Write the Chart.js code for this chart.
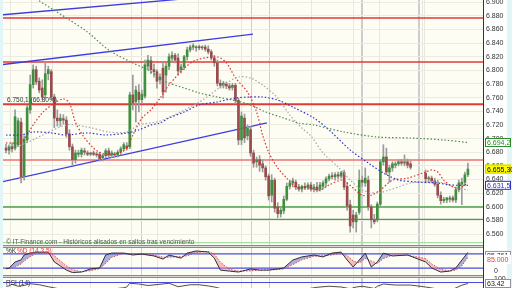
<!DOCTYPE html>
<html><head><meta charset="utf-8">
<script src="https://cdn.jsdelivr.net/npm/chart.js@4.4.1/dist/chart.umd.min.js"></script>
<style>
html,body{margin:0;padding:0;background:#fff;overflow:hidden;width:512px;height:288px}
#wrap{position:absolute;left:0;top:0;width:512px;height:300px}
</style>
</head><body><div id="wrap"><canvas id="c" width="512" height="300"></canvas></div>
<script>
// ---------- DATA (prices in index points, session index on x) ----------
const open = [
6686,6683,6688,6686,6691,6724,6645,6698,6742,6779,
6801,6784,6774,6764,6795,6798,6761,6730,6726,6729,
6727,6707,6688,6669,6677,6677,6682,6679,6677,6679,
6677,6677,6672,6675,6682,6676,6677,6676,6680,6685,
6689,6688,6764,6754,6768,6757,6762,6806,6814,6801,
6798,6786,6803,6793,6806,6818,6822,6818,6801,6805,
6820,6830,6834,6833,6834,6833,6834,6831,6827,6818,
6811,6781,6778,6780,6777,6775,6778,6756,6698,6730,
6704,6713,6679,6666,6669,6663,6657,6645,6617,6639,
6600,6590,6594,6611,6630,6635,6636,6629,6626,6630,
6628,6632,6626,6629,6626,6630,6635,6641,6645,6644,
6647,6645,6650,6630,6603,6588,6578,6592,6639,6635,
6639,6600,6581,6581,6604,6666,6673,6651,6657,6661,
6663,6666,6664,6666,6663,null,null,null,null,6649,
6641,6642,6638,6633,6617,6609,6610,6611,6613,6610,
6625,6633,6636,6647];
const high = [
6692,6691,6694,6742,6730,6730,6704,6749,6793,6808,
6806,6789,6786,6812,6806,6801,6765,6742,6736,6735,
6732,6713,6692,6683,6683,6686,6686,6682,6680,6682,
6680,6680,6677,6685,6686,6682,6680,6683,6688,6694,
6694,6768,6793,6777,6779,6771,6815,6822,6820,6809,
6801,6795,6812,6811,6824,6827,6825,6824,6809,6822,
6834,6837,6839,6836,6837,6836,6837,6836,6830,6822,
6815,6786,6784,6783,6781,6781,6781,6759,6739,6736,
6720,6718,6683,6673,6675,6669,6660,6648,6647,6642,
6606,6598,6616,6635,6639,6642,6639,6633,6632,6635,
6635,6636,6633,6636,6636,6638,6644,6648,6650,6650,
6651,6652,6654,6636,6610,6595,6592,6654,6645,6657,
6645,6603,6589,6607,6669,6691,6686,6661,6666,6666,
6669,6669,6676,6670,6667,null,null,null,null,6654,
6645,6645,6642,6639,6622,6614,6614,6616,6616,6629,
6639,6642,6651,6664];
const low = [
6679,6677,6680,6683,6688,6635,6639,6694,6737,6774,
6779,6767,6757,6759,6786,6757,6716,6718,6718,6721,
6702,6683,6661,6664,6673,6673,6676,6675,6675,6675,
6673,6667,6667,6672,6673,6672,6673,6673,6676,6682,
6683,6685,6742,6724,6739,6751,6759,6801,6795,6790,
6774,6780,6759,6768,6801,6812,6811,6793,6796,6801,
6815,6827,6830,6828,6830,6830,6828,6824,6815,6806,
6777,6774,6774,6773,6771,6771,6752,6691,6691,6694,
6698,6674,6658,6658,6652,6651,6639,6610,6607,6592,
6584,6585,6590,6609,6626,6629,6625,6623,6622,6625,
6625,6623,6622,6622,6623,6626,6630,6638,6641,6639,
6641,6642,6625,6595,6563,6569,6563,6589,6630,6630,
6595,6569,6575,6578,6601,6661,6647,6636,6652,6657,
6660,6661,6660,6657,6655,null,null,null,null,6635,
6636,6635,6630,6613,6604,6606,6606,6607,6607,6606,
6622,6603,6632,6644];
const close = [
6683,6688,6685,6732,6726,6644,6699,6745,6779,6801,
6783,6771,6761,6795,6801,6761,6730,6726,6730,6727,
6707,6688,6669,6679,6679,6683,6680,6677,6679,6677,
6676,6670,6675,6682,6676,6679,6676,6680,6685,6691,
6686,6764,6752,6771,6757,6765,6808,6815,6801,6798,
6784,6790,6768,6806,6820,6822,6815,6799,6805,6820,
6830,6834,6836,6834,6833,6834,6831,6827,6818,6811,
6781,6778,6781,6777,6774,6778,6756,6698,6733,6701,
6715,6679,6664,6669,6661,6657,6644,6616,6639,6598,
6590,6595,6611,6630,6635,6638,6629,6626,6630,6628,
6632,6626,6629,6625,6632,6635,6641,6645,6644,6647,
6645,6650,6629,6601,6572,6578,6588,6639,6636,6642,
6600,6581,6578,6604,6666,6673,6651,6657,6663,6663,
6666,6664,6666,6661,6658,null,null,null,null,6641,
6642,6638,6633,6617,6609,6611,6613,6613,6610,6625,
6635,6636,6647,6655.3];

// price axis tick labels
const priceTicks = [6560,6580,6600,6620,6640,6660,6680,6700,6720,6740,6760,6780,6800,6820,6840,6860,6880,6900];

// moving averages (session index, value)
const redIdx = [0,5,9,12,16,19,21,23,26,29,31,34,38,40,42,45,48,51,54,59,63,70,73,76,80,83,85,87,90,93,96,100,104,107,111,113,115,118,121,124,128,133,139,141,143,145,147,149,151,153];
const redMA = [6693.5,6695,6720,6737.5,6752,6758,6752,6724,6701,6686,6680,6676,6680,6686,6705,6730,6742,6759,6778.5,6803,6815,6819.5,6811,6789,6768,6739,6705,6680,6657,6642,6629,6627.6,6624.7,6632,6639,6635,6627.6,6617,6617,6624.7,6639,6642,6651,6654,6651,6639,6632,6627.6,6629,6635];
const grayIdx = [0,5,20,27,34,40,44,51,64,72,77,81,85,90,94,98,101,105,110,114,118,123,127,130,134,139,145,149,153];
const grayMA = [6687.6,6690.6,6719.9,6716.9,6709.6,6709.6,6719.9,6725.7,6753.6,6778.5,6790.2,6788.7,6778.5,6759.4,6734.5,6715.5,6703.8,6678.9,6658.3,6639.3,6624.7,6620.3,6624.7,6629,6634.9,6636.4,6634.9,6627.6,6624.7];
const blueIdx = [0,5,9,15,20,27,33,40,44,48,51,54,59,64,70,76,81,85,90,95,102,107,114,120,125,130,136,143,147,153];
const blueMA = [6705.2,6705.2,6709.6,6708.2,6705.2,6708.2,6705.2,6708.2,6712.6,6719.9,6722.8,6730.1,6738.9,6749.2,6753.6,6759.4,6760.9,6760.9,6756.5,6746.2,6730.1,6712.6,6683.3,6664.2,6649.6,6639.3,6636.4,6634.9,6632,6631.5];
const greenIdx = [10,20,27,34,42,47,51,53,59,64,70,75,81,86,92,97,102,112,123,134,145,153];
const greenMA = [6904.5,6876.6,6856.1,6829.8,6810.7,6800.5,6788.7,6782.9,6774.1,6766.8,6760.9,6756.5,6749.2,6738.9,6730.1,6722.8,6719.9,6709.6,6702.3,6700.8,6697.9,6694.2];

// trend lines [startIdx, startVal, endIdx, endVal]
const trendLines = [[-2,6881,160,6944],[-2,6808,81.8,6853],[-2,6636,86.4,6723]];
const redLevels = [6876.6, 6812.2, 6750.1, 6668.6];
const greenLevels = [6599.7, 6581.5];
const paleGreenLevel = 6547.5;

// stochastic %K / %D
const stochIdx = [0,1,3,5,6,8,10,14,16,18,20,22,25,28,31,33,35,39,42,45,49,52,54,58,60,63,67,69,71,74,77,81,84,87,90,92,95,98,102,105,108,111,113,115,117,119,121,123,125,128,133,139,141,144,147,149,151,153];
const stochK = [17,20,46,55,75,83,87,87,46,29,12,2,4,17,21,75,83,83,75,79,71,58,75,62,83,92,87,62,12,8,4,17,12,12,17,21,54,67,75,67,83,87,54,25,54,83,25,46,83,71,75,46,21,4,8,21,54,85.761];
const stochD = [20,18,25,38,50,68,82,86,72,50,30,14,5,10,18,40,65,82,80,77,75,66,66,68,72,85,90,78,45,15,8,9,12,13,14,17,35,55,70,72,75,82,72,50,42,60,50,40,60,75,74,60,38,15,8,12,30,65];
const stochLevels = [20, 80];

// RSI(14)
const rsiIdx = [0,1,2,4,6,8,11,14,17,20,24,28,32,36,39,40,41,44,47,51,54,57,61,64,67,69,71,76,78,82,86,89,92,96,100,103,107,111,114,116,118,120,122,123,125,129,134,139,142,145,148,151,153];
const rsiVal = [45,47,58,45,50,62,55,42,30,25,22,25,30,28,35,40,65,60,50,58,65,42,55,55,47,40,30,28,25,22,18,15,20,25,28,38,45,40,28,40,45,38,30,45,60,53,53,40,30,22,25,52,63.42];
const rsiLevels = [70, 30];

// vertical separators (session index)
const weekLines = [5,12,19,37,46,54.3,73.5,82.8,91.7,110.6,119.5,128,148];
const monthLines = [26.5,63.2,99.7,136,137.7];

// ---------- BUILD ----------
const UP = '#3f8f3f', DOWN = '#9b4b4b', WICK = '#9a9a9a';
const wickData = [], bodyData = [], bodyCol = [];
open.forEach((o, i) => {
  if (o == null) return;
  wickData.push({x: i, y: [low[i], high[i]]});
  bodyData.push({x: i, y: [o, close[i]]});
  bodyCol.push(close[i] >= o ? UP : DOWN);
});
const pts = (idx, vals) => idx.map((x, k) => ({x, y: vals[k]}));
const XMIN = -1, XMAX = 158;
const hline = (v, color, w, order) => ({type: 'line', data: [{x: XMIN, y: v}, {x: XMAX, y: v}], borderColor: color, borderWidth: w, pointRadius: 0, yAxisID: 'y', order});
const dotted = (idx, vals, color) => ({type: 'line', data: pts(idx, vals), borderColor: color, borderWidth: 1.2, borderDash: [1.5, 2], pointRadius: 0, yAxisID: 'y', order: 1, tension: 0.3});

const fmtThousands = v => { const s = Math.round(v).toString(); return s.slice(0, s.length - 3) + '.' + s.slice(-3); };

const datasets = [];
redLevels.forEach((v, k) => datasets.push(hline(v, k === 3 ? '#e87070' : '#e03a3a', k === 2 ? 2 : 1.3, 10)));
greenLevels.forEach(v => datasets.push(hline(v, '#4aa04a', 1.3, 10)));
datasets.push(hline(paleGreenLevel, '#a8dca8', 1.3, 10));
trendLines.forEach(t => datasets.push({type: 'line', data: [{x: t[0], y: t[1]}, {x: t[2], y: t[3]}], borderColor: '#3c3ce0', borderWidth: 1.3, pointRadius: 0, yAxisID: 'y', order: 9}));
datasets.push({type: 'bar', data: wickData, backgroundColor: WICK, barThickness: 1, grouped: false, yAxisID: 'y', order: 6});
datasets.push({type: 'bar', data: bodyData, backgroundColor: bodyCol, barThickness: 2, minBarLength: 1, grouped: false, yAxisID: 'y', order: 5});
datasets.push(dotted(greenIdx, greenMA, '#4e8a4e'));
datasets.push(dotted(blueIdx, blueMA, '#3434c8'));
datasets.push(dotted(grayIdx, grayMA, '#a8a8a8'));
datasets.push(dotted(redIdx, redMA, '#d83030'));
// stochastic
stochLevels.forEach(v => datasets.push({type: 'line', data: [{x: XMIN, y: v}, {x: XMAX, y: v}], borderColor: '#4a4ae0', borderWidth: 1.2, pointRadius: 0, yAxisID: 'ys', order: 8}));
datasets.push({type: 'line', data: pts(stochIdx, stochK), borderColor: '#303040', borderWidth: 1, pointRadius: 0, yAxisID: 'ys', order: 2,
  fill: {target: '+1', above: 'rgba(110,110,200,0.55)', below: 'rgba(240,140,140,0.55)'}});
datasets.push({type: 'line', data: pts(stochIdx, stochD), borderColor: '#e04040', borderWidth: 1, borderDash: [1.5, 1.5], pointRadius: 0, yAxisID: 'ys', order: 3});
// RSI
rsiLevels.forEach(v => datasets.push({type: 'line', data: [{x: XMIN, y: v}, {x: XMAX, y: v}], borderColor: '#4a4ae0', borderWidth: 1.2, pointRadius: 0, yAxisID: 'yr', order: 8}));
datasets.push({type: 'line', data: pts(rsiIdx, rsiVal), borderColor: '#505050', borderWidth: 1, pointRadius: 0, yAxisID: 'yr', order: 2});

const valueBoxes = [
  {axis: 'y', v: greenMA[greenMA.length - 1], text: '6.694,2', fg: '#2c8a2c', bg: '#ffffff', bd: '#2c8a2c'},
  {axis: 'y', v: close[close.length - 1], text: '6.655,30', fg: '#000000', bg: '#ffff00', bd: '#d0d000'},
  {axis: 'y', v: blueMA[blueMA.length - 1], text: '6.631,5', fg: '#3030c0', bg: '#ffffff', bd: '#3030c0'},
  {axis: 'ys', v: stochK[stochK.length - 1], text: '85.761', fg: '#202040', bg: '#ffffff', bd: '#9090a0', dy: 3},
  {axis: 'ys', v: stochD[stochD.length - 1], text: '85.000', fg: '#e04040', bg: '#ffffff', bd: '#ffffff', dy: 2},
  {axis: 'yr', v: rsiVal[rsiVal.length - 1], text: '63.42', fg: '#202020', bg: '#ffffff', bd: '#9090a0'}
];

const decor = {
  id: 'decor',
  beforeDraw(chart) {
    const {ctx, chartArea: a, scales} = chart;
    ctx.save();
    ctx.fillStyle = '#ffffff';
    ctx.fillRect(0, 0, chart.width, chart.height);
    ctx.fillStyle = '#e2f6f8';
    ctx.fillRect(0, 0, a.left, chart.height);
    ctx.fillRect(chart.width - 5, 0, 5, chart.height);
    ['y', 'ys', 'yr'].forEach(id => {
      const s = scales[id];
      ctx.fillStyle = '#fdfdf4';
      ctx.fillRect(a.left, s.top, a.right - a.left, s.bottom - s.top);
    });
    ctx.restore();
  },
  afterDraw(chart) {
    const {ctx, chartArea: a, scales} = chart;
    ctx.save();
    [scales.ys.top, scales.yr.top].forEach(t => {
      ctx.fillStyle = '#d8d8d8'; ctx.fillRect(a.left, t - 1, a.right - a.left, 3);
      ctx.fillStyle = '#8a8a8a'; ctx.fillRect(a.left, t - 1, a.right - a.left, 1);
      ctx.fillRect(a.left, t + 1, a.right - a.left, 1);
    });
    ctx.textBaseline = 'middle';
    ctx.font = '6.5px "Liberation Sans"';
    ctx.fillStyle = '#333';
    ctx.fillText('6.750,1 (66.80%)', a.left + 4, scales.y.getPixelForValue(redLevels[2]) - 4);
    ctx.fillStyle = '#555';
    ctx.fillText('\u00A9 IT-Finance.com - Hist\u00F3ricos alisados en saltos tras vencimiento', a.left + 3, scales.y.bottom - 4);
    ctx.fillStyle = '#333';
    ctx.fillText('%K', a.left + 3, scales.ys.top + 5);
    ctx.fillStyle = '#e04040';
    ctx.fillText('%D (14,3,5)', a.left + 14, scales.ys.top + 5);
    ctx.fillStyle = '#333';
    ctx.fillText('RSI (14)', a.left + 3, scales.yr.top + 7);
    ctx.font = '7px "Liberation Sans"';
    valueBoxes.forEach(b => {
      const s = scales[b.axis];
      const y = s.getPixelForValue(b.v) + (b.dy || 0);
      const x = s.left + 2;
      ctx.fillStyle = b.bg; ctx.fillRect(x, y - 4.5, 26, 9);
      ctx.strokeStyle = b.bd; ctx.lineWidth = 1; ctx.strokeRect(x + 0.5, y - 4, 25, 8);
      ctx.fillStyle = b.fg; ctx.fillText(b.text, x + 2, y + 0.5);
    });
    ctx.restore();
  }
};

const fixAxis = s => { s.width = 29; s.paddingTop = 0; s.paddingBottom = 0; };
const tickVal = c => (c && c.tick ? c.tick.value : null);

Chart.defaults.font.family = '"Liberation Sans", Arial, sans-serif';
Chart.defaults.font.size = 7;
Chart.defaults.color = '#333';

new Chart(document.getElementById('c'), {
  type: 'bar',
  data: {datasets},
  plugins: [decor],
  options: {
    responsive: false, animation: false, devicePixelRatio: 1,
    layout: {padding: {left: 3, right: 0, top: 0, bottom: 0}},
    plugins: {legend: {display: false}, tooltip: {enabled: false}},
    scales: {
      x: {type: 'linear', min: XMIN, max: XMAX, offset: false,
        ticks: {display: false}, border: {display: false},
        grid: {drawTicks: false,
          color: c => monthLines.includes(tickVal(c)) ? '#cdcdcd' : '#e8e8de',
          lineWidth: c => (tickVal(c) === 136 || tickVal(c) === 137.7) ? 2 : 1},
        afterBuildTicks: s => { s.ticks = weekLines.concat(monthLines).map(v => ({value: v})); }},
      y: {position: 'right', stack: 'panes', stackWeight: 246, min: 6542.6, max: 6903,
        afterBuildTicks: s => { s.ticks = priceTicks.map(v => ({value: v})); },
        ticks: {autoSkip: false, padding: 3, callback: v => fmtThousands(v)},
        grid: {color: '#ebebe1', drawTicks: false}, border: {color: '#333'}, afterFit: fixAxis},
      ys: {position: 'right', stack: 'panes', stackWeight: 30, min: -12.5, max: 112.5,
        afterBuildTicks: s => { s.ticks = [{value: 0}]; },
        ticks: {padding: 3, labelOffset: -2, callback: v => (v === 0 ? '0' : '')},
        grid: {display: false}, border: {color: '#333'}, afterFit: fixAxis},
      yr: {position: 'right', stack: 'panes', stackWeight: 24, min: -46.7, max: 113.3,
        afterBuildTicks: s => { s.ticks = [{value: 100}]; },
        ticks: {padding: 3, labelOffset: 1, callback: v => (v === 100 ? '100' : '')},
        grid: {display: false}, border: {color: '#333'}, afterFit: fixAxis}
    }
  }
});
</script></body></html>
